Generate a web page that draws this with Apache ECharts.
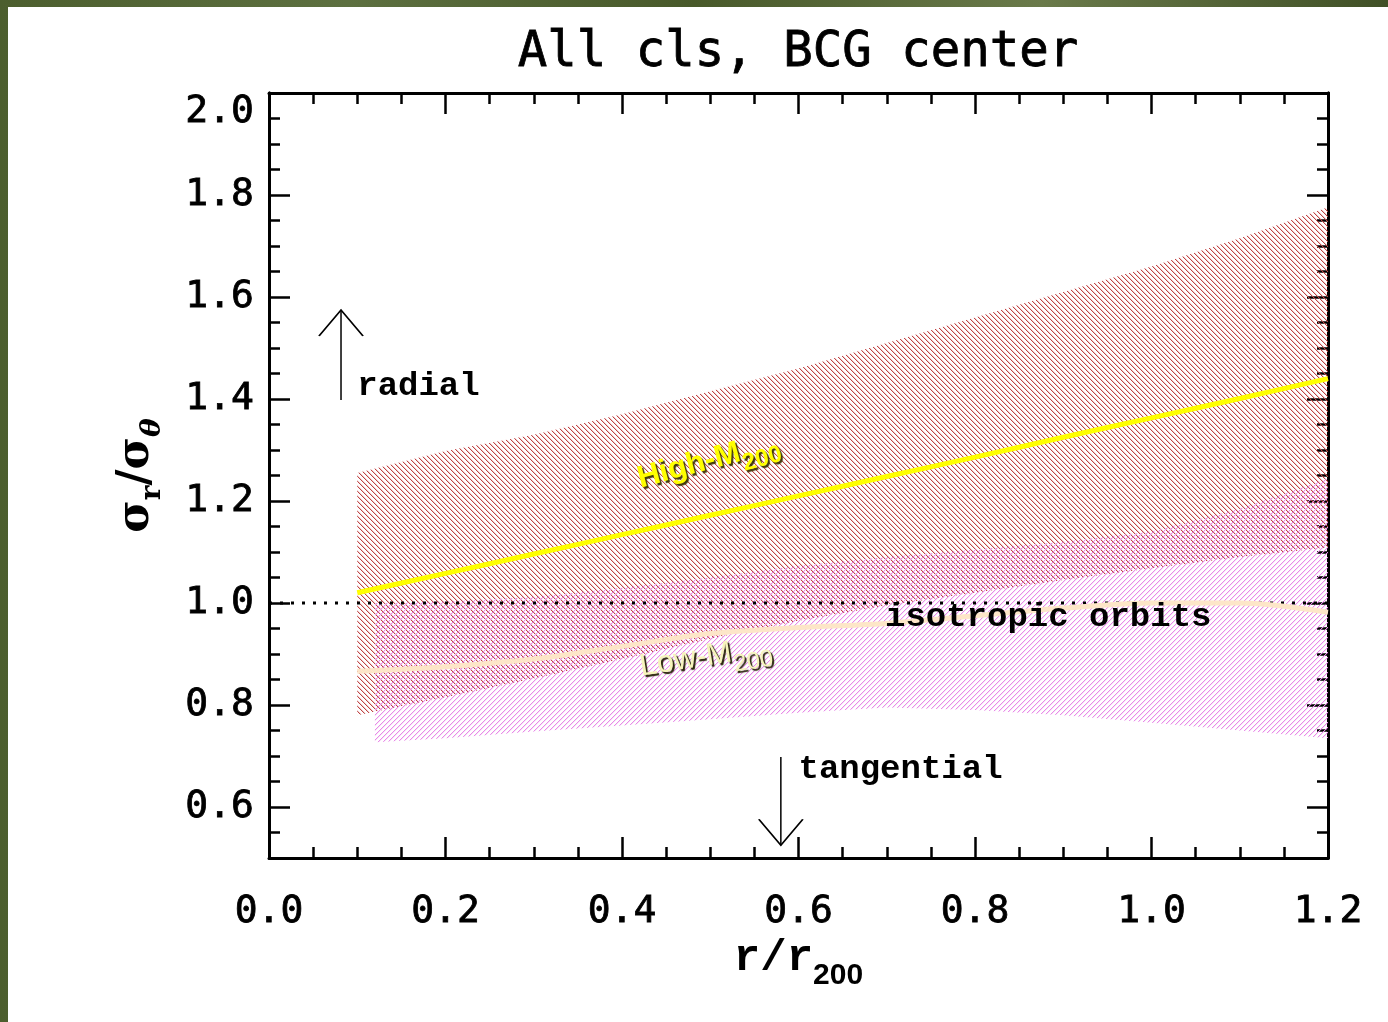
<!DOCTYPE html>
<html>
<head>
<meta charset="utf-8">
<script src="https://cdn.jsdelivr.net/npm/echarts@6/dist/echarts.min.js"></script>
<style>
  html, body { margin: 0; padding: 0; width: 1388px; height: 1022px; overflow: hidden;
    background: linear-gradient(90deg, #4c5e2e 0%, #5d7040 25%, #48592a 50%, #6a7a4a 75%, #405026 100%); }
  #chart { position: absolute; left: 8px; top: 7px; width: 1380px; height: 1015px; background: #fff; }
</style>
</head>
<body>
<div id="chart"></div>
<script>
// Velocity anisotropy profiles, sigma_r / sigma_theta versus r / r200.

// High-M200 clusters: radii, 1-sigma band edges and mean profile
const highR   = [0.10, 0.20, 0.30, 0.40, 0.50, 0.60, 0.70, 0.80, 0.90, 1.00, 1.10, 1.20];
const highLo  = [0.780, 0.815, 0.852, 0.890, 0.930, 0.965, 0.995, 1.020, 1.045, 1.068, 1.090, 1.109];
const highHi  = [1.255, 1.298, 1.330, 1.370, 1.415, 1.460, 1.510, 1.560, 1.610, 1.660, 1.715, 1.776];
const highMid = [1.020, 1.058, 1.096, 1.134, 1.172, 1.210, 1.248, 1.286, 1.325, 1.363, 1.401, 1.440];

// Low-M200 clusters: band edges and mean profile
const lowR    = [0.12, 0.20, 0.30, 0.40, 0.50, 0.60, 0.70, 0.80, 0.90, 1.00, 1.10, 1.20];
const lowLo   = [0.727, 0.735, 0.748, 0.760, 0.772, 0.785, 0.795, 0.790, 0.780, 0.765, 0.750, 0.735];
const lowHi   = [1.000, 1.003, 1.012, 1.030, 1.050, 1.073, 1.090, 1.105, 1.120, 1.140, 1.185, 1.244];
const lowMidR = [0.10, 0.20, 0.30, 0.40, 0.50, 0.60, 0.70, 0.80, 0.90, 1.00, 1.10, 1.20];
const lowMid  = [0.866, 0.875, 0.890, 0.915, 0.940, 0.952, 0.960, 0.975, 0.990, 1.000, 1.000, 0.982];

// isotropic reference level
const isoR = [0.0, 1.2];
const isoY = [1.0, 1.0];

// tick labels
const xTickLabels = ['0.0', '0.2', '0.4', '0.6', '0.8', '1.0', '1.2'];
const yTickLabels = ['0.6', '0.8', '1.0', '1.2', '1.4', '1.6', '1.8', '2.0'];

// orbit-type arrows: [r, tail, tip]
const radialArrow = [0.0816, 1.398, 1.5745];
const tangentialArrow = [0.580, 0.698, 0.525];

const zip = (xs, ys) => xs.map((x, i) => [x, ys[i]]);

// small repeating tile with one diagonal hatch line
function hatch(color, slope) {
  const n = 5;
  const c = document.createElement('canvas');
  c.width = n; c.height = n;
  const g = c.getContext('2d');
  g.fillStyle = color;
  for (let i = 0; i < n; i++) {
    const x = slope > 0 ? i : n - 1 - i;
    g.globalAlpha = 1;
    g.fillRect(x, i, 1, 1);
    g.globalAlpha = 0.25;
    g.fillRect((x + 1) % n, i, 1, 1);
  }
  return c;
}
const redHatch = hatch('#c04444', 1);
const pinkHatch = hatch('#e88ae8', -1);

// hatched band between a lower and an upper edge, drawn as one polygon
function bandSeries(xs, lo, hi, tile, z) {
  return {
    type: 'custom', coordinateSystem: 'cartesian2d', silent: true, z: z,
    data: xs.map((x, i) => [x, lo[i], hi[i]]),
    encode: { x: 0, y: [1, 2] },
    renderItem: (params, api) => {
      if (params.dataIndex !== 0) return null;
      const pts = [];
      for (let i = 0; i < xs.length; i++) pts.push(api.coord([xs[i], hi[i]]));
      for (let i = xs.length - 1; i >= 0; i--) pts.push(api.coord([xs[i], lo[i]]));
      return { type: 'polygon', shape: { points: pts },
               style: { fill: { image: tile, repeat: 'repeat' }, stroke: null } };
    }
  };
}

const black = '#000';
const axisLine = { show: true, onZero: false, lineStyle: { color: black, width: 3 } };
const tickStyle = { color: black, width: 2.5 };
const tickFont = { fontFamily: 'DejaVu Sans Mono', fontSize: 38, color: black,
                   textBorderColor: black, textBorderWidth: 0.8 };

const xBase = { type: 'value', min: 0, max: 1.2, interval: 0.2, splitLine: { show: false },
  axisLine: axisLine,
  axisTick: { show: true, inside: true, length: 21, lineStyle: tickStyle },
  minorTick: { show: true, splitNumber: 4, length: 11, lineStyle: tickStyle } };
const yBase = { type: 'value', min: 0.5, max: 2.0, splitLine: { show: false }, axisLine: axisLine };
const yMinor = { interval: 0.05, axisTick: { show: true, inside: true, length: 11, lineStyle: tickStyle } };
const yMajor = { axisTick: { show: true, inside: true, length: 21, lineStyle: tickStyle,
  customValues: yTickLabels.map(Number) }, axisLabel: { show: false } };

const solid = { opacity: 1 };
const noteStyle = { fontFamily: 'Liberation Mono', fontWeight: 'bold', fontSize: 34, color: black, opacity: 1 };
const noteSeries = (name, at) => ({
  type: 'scatter', silent: true, symbolSize: 0, z: 20, itemStyle: solid,
  data: [at],
  label: { show: true, position: 'right', distance: 0, formatter: name, ...noteStyle }
});

const subLabel = (main, sub, color, weight, rot, at, shadow) => {
  const fx = { textShadowColor: shadow, textShadowOffsetX: 2, textShadowOffsetY: 2, textShadowBlur: 1 };
  return {
    type: 'scatter', silent: true, symbolSize: 0, z: 21, itemStyle: solid,
    data: [at],
    label: {
      show: true, position: 'inside', rotate: rot, opacity: 1,
      formatter: '{m|' + main + '}{s|' + sub + '}',
      rich: {
        m: { fontFamily: 'Liberation Sans', fontWeight: weight, fontSize: 31, color: color,
             lineHeight: 34, verticalAlign: 'bottom', padding: [0, 0, 9, 0], ...fx },
        s: { fontFamily: 'Liberation Sans', fontWeight: weight, fontSize: 24, color: color,
             lineHeight: 26, verticalAlign: 'bottom', ...fx }
      }
    }
  };
};

const chevron = 'path://M0,26 L22,0 L44,26';

const option = {
  animation: false,
  grid: { left: 261, right: 60, top: 86, bottom: 164, containLabel: false },
  graphic: [{
    type: 'text', x: 790, y: 46, silent: true,
    style: { text: 'All cls, BCG center', fill: black, textAlign: 'center', textVerticalAlign: 'middle',
             font: '49px "DejaVu Sans Mono"', stroke: black, lineWidth: 0.8 }
  }],
  xAxis: [
    { ...xBase, position: 'bottom',
      axisLabel: { customValues: xTickLabels.map(Number), formatter: v => v.toFixed(1), margin: 35, ...tickFont },
      name: '{m|r/r}{s|200}', nameLocation: 'middle', nameGap: 93,
      nameTextStyle: { rich: {
        m: { fontFamily: 'Liberation Mono', fontWeight: 'bold', fontSize: 44, color: black,
             lineHeight: 40, verticalAlign: 'bottom', padding: [0, 0, 10, 0] },
        s: { fontFamily: 'Liberation Sans', fontWeight: 'bold', fontSize: 30, color: black,
             lineHeight: 30, verticalAlign: 'bottom' } } } },
    { ...xBase, position: 'top', axisLabel: { show: false } }
  ],
  yAxis: [
    { ...yBase, ...yMinor, position: 'left',
      axisLabel: { customValues: yTickLabels.map(Number), formatter: v => v.toFixed(1), margin: 15,
                   verticalAlignMaxLabel: 'top', ...tickFont },
      name: '{m|σ}{s|r}{m|/σ}{t|θ}', nameLocation: 'middle', nameGap: 102,
      nameTextStyle: { rich: {
        m: { fontFamily: 'DejaVu Serif', fontWeight: 'bold', fontSize: 44, color: black,
             lineHeight: 46, verticalAlign: 'bottom', padding: [0, 0, 8, 0] },
        s: { fontFamily: 'DejaVu Serif', fontWeight: 'bold', fontSize: 28, color: black,
             lineHeight: 34, verticalAlign: 'bottom' },
        t: { fontFamily: 'DejaVu Serif', fontWeight: 'bold', fontStyle: 'italic', fontSize: 28, color: black,
             lineHeight: 34, verticalAlign: 'bottom' } } } },
    { ...yBase, ...yMajor, position: 'left' },
    { ...yBase, ...yMinor, position: 'right', axisLabel: { show: false } },
    { ...yBase, ...yMajor, position: 'right' }
  ],
  series: [
    bandSeries(highR, highLo, highHi, redHatch, 2),
    bandSeries(lowR, lowLo, lowHi, pinkHatch, 3),
    // isotropic orbits
    { type: 'line', silent: true, symbol: 'none', z: 4, data: zip(isoR, isoY),
      lineStyle: { color: black, width: 3, type: [3, 8] } },
    // mean profiles
    { type: 'line', silent: true, symbol: 'none', smooth: 0.3, z: 5, data: zip(highR, highMid),
      lineStyle: { color: '#ffff00', width: 5 } },
    { type: 'line', silent: true, symbol: 'none', smooth: 0.3, z: 5, data: zip(lowMidR, lowMid),
      lineStyle: { color: '#fde6c8', width: 5 } },
    // arrows
    { type: 'line', silent: true, symbol: 'none', z: 6,
      data: [[radialArrow[0], radialArrow[1]], [radialArrow[0], radialArrow[2]]],
      lineStyle: { color: black, width: 1.5 } },
    { type: 'line', silent: true, symbol: 'none', z: 6,
      data: [[tangentialArrow[0], tangentialArrow[1]], [tangentialArrow[0], tangentialArrow[2]]],
      lineStyle: { color: black, width: 1.5 } },
    { type: 'scatter', silent: true, z: 6, symbol: chevron, symbolSize: [44, 26],
      itemStyle: { color: 'rgba(0,0,0,0)', borderColor: black, borderWidth: 1.5, opacity: 1 },
      data: [
        { value: [radialArrow[0], radialArrow[2]], symbolOffset: [0, 13] },
        { value: [tangentialArrow[0], tangentialArrow[2]], symbolRotate: 180, symbolOffset: [0, -13] }
      ] },
    noteSeries('radial', [0.100, 1.424]),
    noteSeries('tangential', [0.600, 0.673]),
    noteSeries('isotropic orbits', [0.698, 0.972]),
    subLabel('High-M', '200', '#ffff00', 'bold', 15, [0.50, 1.265], 'rgba(55,50,0,0.95)'),
    subLabel('Low-M', '200', '#f6f4bc', 'normal', 9, [0.496, 0.880], 'rgba(40,35,10,1)')
  ]
};

const chart = echarts.init(document.getElementById('chart'), null, { renderer: 'canvas' });
chart.setOption(option);
</script>
</body>
</html>
